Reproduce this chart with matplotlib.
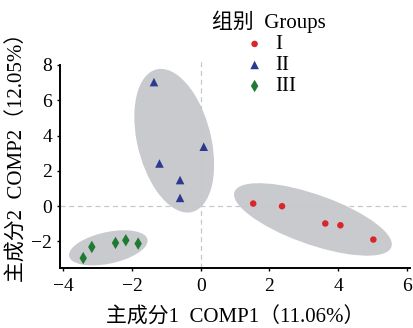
import numpy as np
import matplotlib
matplotlib.use("Agg")
import matplotlib.pyplot as plt
from matplotlib.patches import Ellipse

plt.rcParams['font.family'] = ['Liberation Serif', 'Noto Sans CJK SC']
plt.rcParams['axes.unicode_minus'] = True

# scores of the samples, one set per group
groups = ["I", "II", "III"]
g1_x = [1.53, 2.37, 3.63, 4.07, 5.03]
g1_y = [0.15, 0.00, -0.98, -1.08, -1.89]
g2_x = [-1.36, 0.09, -1.20, -0.60, -0.60]
g2_y = [7.03, 3.37, 2.42, 1.48, 0.47]
g3_x = [-3.42, -3.17, -2.48, -2.18, -1.82]
g3_y = [-2.94, -2.31, -2.08, -1.93, -2.12]

# ellipse for each group: centre and spread (sxx, syy, sxy)
ell_center = [(3.27, -0.75), (-0.77, 3.71), (-2.69, -2.36)]
ell_spread = [(5.28, 4.22, -3.24), (1.35, 16.56, -1.57), (1.31, 0.99, 0.46)]

xticks = [-4, -2, 0, 2, 4, 6]
yticks = [-2, 0, 2, 4, 6, 8]

colors = ["#d9262b", "#2b3a8f", "#1f7a34"]
markers = ["o", "^", "d"]
sizes = [22, 38, 40]
xs = [g1_x, g2_x, g3_x]
ys = [g1_y, g2_y, g3_y]

fig = plt.figure(figsize=(4.13, 3.28), dpi=100)
ax = fig.add_axes([0.145, 0.183, 0.848, 0.635])

for c, s in zip(ell_center, ell_spread):
    cov = np.array([[s[0], s[2]], [s[2], s[1]]])
    vals, vecs = np.linalg.eigh(cov)
    ang = np.degrees(np.arctan2(vecs[1, 1], vecs[0, 1]))
    e = Ellipse(c, width=2 * np.sqrt(vals[1]), height=2 * np.sqrt(vals[0]),
                angle=ang, facecolor="#c9cacd", edgecolor="none", zorder=1)
    ax.add_patch(e)

ax.axhline(0, color="#c8c8c8", lw=0.9, ls=(0, (4, 3)), zorder=2)
ax.axvline(0, color="#c8c8c8", lw=0.9, ls=(0, (4, 3)), zorder=2)

for i in range(len(groups)):
    ax.scatter(xs[i], ys[i], s=sizes[i], c=colors[i], marker=markers[i],
               edgecolors="none", zorder=3, label=groups[i])

ax.set_xlim(-4.1, 6.1)
ax.set_ylim(-3.5, 8.3)
ax.set_xticks(xticks)
ax.set_yticks(yticks)
ax.spines["top"].set_visible(False)
ax.spines["right"].set_visible(False)
ax.spines["left"].set_bounds(-3.5, 8)
for sp in ["left", "bottom"]:
    ax.spines[sp].set_linewidth(1.4)
ax.tick_params(labelsize=14, length=2.5, width=1)
ax.tick_params(axis="x", pad=5)
ax.tick_params(axis="y", pad=3)

ax.set_xlabel("主成分1  COMP1（11.06%）", fontsize=15)
ax.set_ylabel("主成分2  COMP2（12.05%）", fontsize=15)
ax.xaxis.set_label_coords(0.5, -0.188)
ax.yaxis.set_label_coords(-0.091, 0.556)

leg = ax.legend(title="组别  Groups", loc="upper center", bbox_to_anchor=(0.652, 1.005),
                bbox_transform=fig.transFigure, frameon=False, fontsize=15,
                title_fontsize=15, handletextpad=0.4, labelspacing=0.07,
                borderpad=0.1, handlelength=1.2)

plt.savefig("out.png", dpi=100)
